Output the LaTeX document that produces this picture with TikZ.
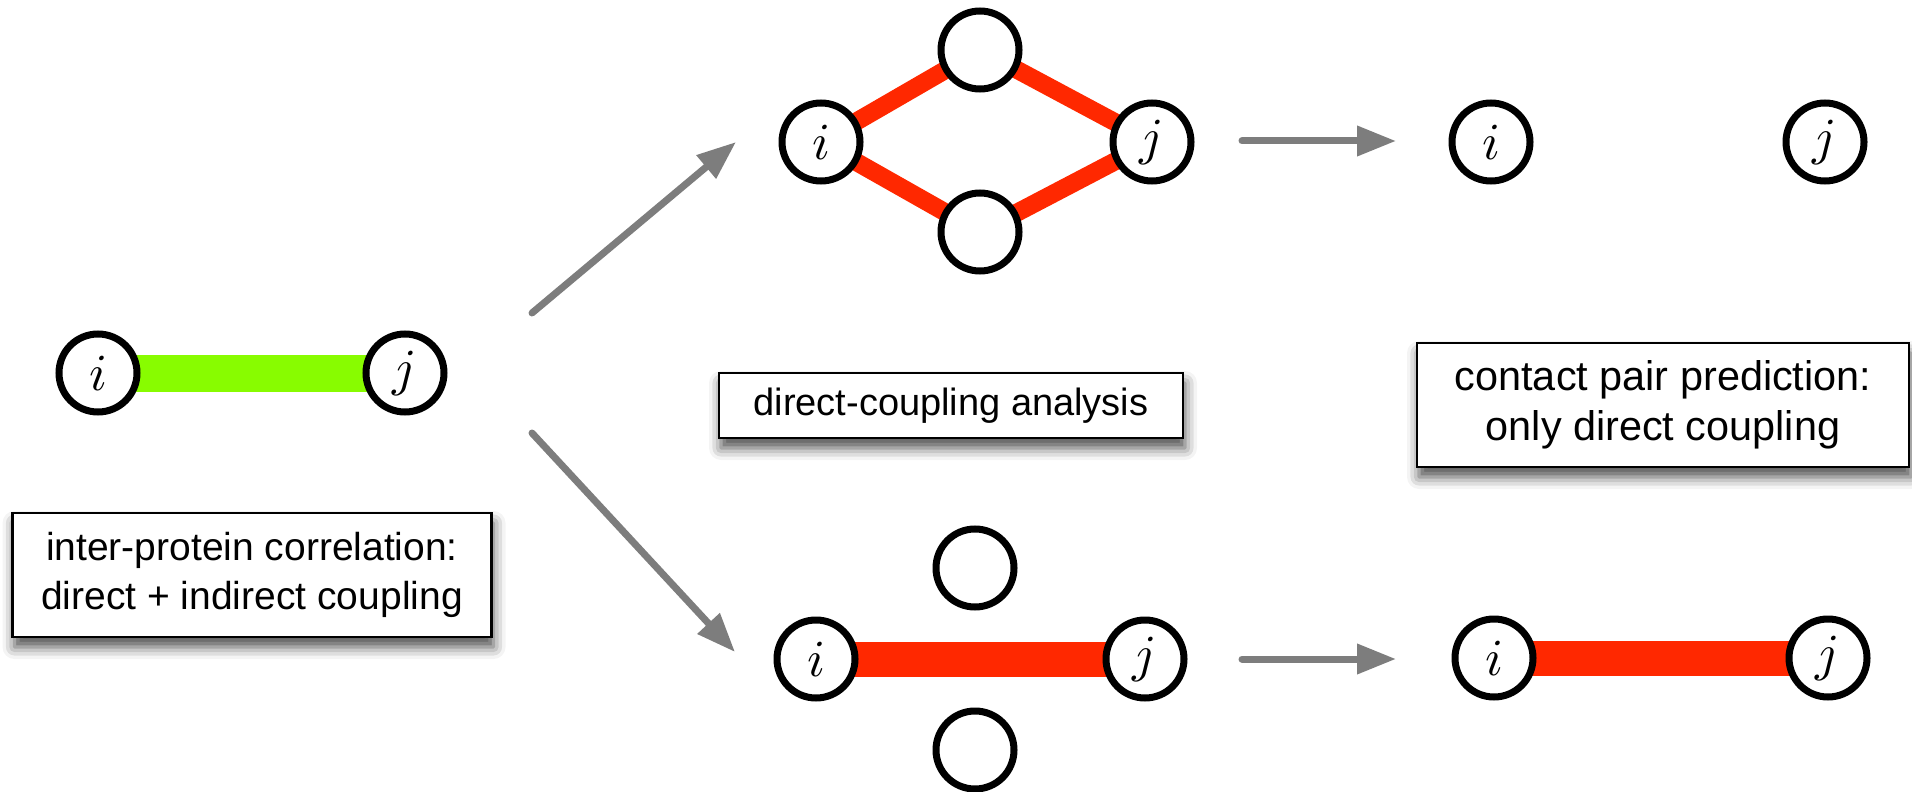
\documentclass[tikz,border=0pt]{standalone}
\usepackage{graphicx}
\usepackage{fontspec}
\setmainfont{Liberation Sans}
\usetikzlibrary{arrows.meta,shadows.blur}

\definecolor{limebar}{RGB}{136,252,0}
\definecolor{redbar}{RGB}{255,40,0}
\definecolor{arrowgray}{RGB}{125,125,125}

\newcommand{\vlabel}[1]{\scalebox{2.6}{$#1$}}

\tikzset{
  vtx/.style={circle, draw=black, fill=white, line width=3.5pt,
    minimum size=39pt, inner sep=0pt},
  greenlink/.style={draw=limebar, line width=18.5pt},
  redlink/.style={draw=redbar, line width=17.5pt},
  thinred/.style={draw=redbar, line width=9pt},
  flow/.style={draw=arrowgray, line width=3.5pt, line cap=round,
    -{Triangle[length=19.5pt, width=14.5pt]}},
  labelbox/.style={draw=black, fill=white, line width=1.25pt,
    align=center, inner sep=0pt,
    blur shadow={shadow xshift=1pt, shadow yshift=-5pt,
      shadow blur radius=6pt, shadow opacity=70}},
}

\begin{document}
\begin{tikzpicture}[x=0.5pt, y=-0.5pt]
  \useasboundingbox (0,0) rectangle (1912,792);

  % vertex positions
  \coordinate (Pli) at (98,373);   \coordinate (Plj) at (405,373);
  \coordinate (Pti) at (821,142);  \coordinate (Ptu) at (980,50);
  \coordinate (Ptd) at (980,232);  \coordinate (Ptj) at (1152,142);
  \coordinate (Pbi) at (816,659);  \coordinate (Pbu) at (975,568);
  \coordinate (Pbd) at (975,750);  \coordinate (Pbj) at (1145,659);
  \coordinate (Ppi) at (1491,142); \coordinate (Ppj) at (1825,142);
  \coordinate (Pqi) at (1494,658); \coordinate (Pqj) at (1828,658);

  % couplings, drawn first so the vertices sit on top
  \draw[greenlink] (Pli) -- (Plj);
  \draw[thinred] (Pti) -- (Ptu) -- (Ptj) -- (Ptd) -- cycle;
  \draw[redlink] (Pbi) -- (Pbj);
  \draw[redlink] (Pqi) -- (Pqj);

  % correlated pair on the left
  \node[vtx] (li) at (Pli) {\vlabel{i}};
  \node[vtx] (lj) at (Plj) {\vlabel{j}};

  % network with indirect paths
  \node[vtx] (ti) at (Pti) {\vlabel{i}};
  \node[vtx] (tu) at (Ptu) {};
  \node[vtx] (td) at (Ptd) {};
  \node[vtx] (tj) at (Ptj) {\vlabel{j}};

  % network with a direct link
  \node[vtx] (bi) at (Pbi) {\vlabel{i}};
  \node[vtx] (bu) at (Pbu) {};
  \node[vtx] (bd) at (Pbd) {};
  \node[vtx] (bj) at (Pbj) {\vlabel{j}};

  % predictions
  \node[vtx] (pi) at (Ppi) {\vlabel{i}};
  \node[vtx] (pj) at (Ppj) {\vlabel{j}};
  \node[vtx] (qi) at (Pqi) {\vlabel{i}};
  \node[vtx] (qj) at (Pqj) {\vlabel{j}};

  % flow arrows
  \coordinate (a1s) at (532,313);  \coordinate (a1e) at (736,142);
  \coordinate (a2s) at (532,433);  \coordinate (a2e) at (735,652);
  \coordinate (a3s) at (1242,141); \coordinate (a3e) at (1396,141);
  \coordinate (a4s) at (1242,659); \coordinate (a4e) at (1396,659);
  \draw[flow] (a1s) -- (a1e);
  \draw[flow] (a2s) -- (a2e);
  \draw[flow] (a3s) -- (a3e);
  \draw[flow] (a4s) -- (a4e);

  % captions
  \node[labelbox, minimum width=239.5pt, minimum height=62pt,
    font=\fontsize{19.5pt}{24.5pt}\selectfont] (cap1) at (252,575)
    {inter-protein correlation:\\direct + indirect coupling};
  \node[labelbox, minimum width=232pt, minimum height=32.5pt,
    font=\fontsize{19pt}{24pt}\selectfont] (cap2) at (951,405.5)
    {direct-coupling analysis};
  \node[labelbox, minimum width=246pt, minimum height=62pt,
    font=\fontsize{20.7pt}{25pt}\selectfont] (cap3) at (1663,405)
    {contact pair prediction:\\only direct coupling};
\end{tikzpicture}
\end{document}
